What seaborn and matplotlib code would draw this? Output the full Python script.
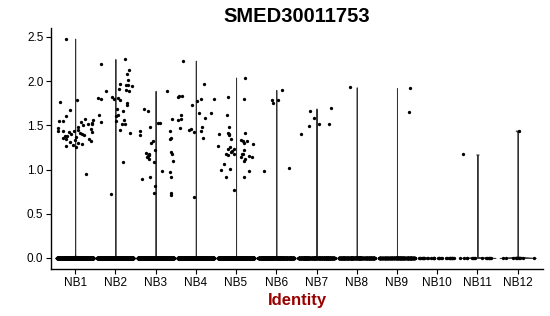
import numpy as np
import pandas as pd
import matplotlib
matplotlib.use("Agg")
import matplotlib.pyplot as plt
import seaborn as sns

groups = ["NB1", "NB2", "NB3", "NB4", "NB5", "NB6", "NB7", "NB8", "NB9", "NB10", "NB11", "NB12"]
zero_counts = [1500, 1200, 1200, 1300, 1000, 600, 500, 400, 300, 30, 15, 9]

nb1 = [2.48, 1.79, 1.76, 1.67, 1.61, 1.57, 1.56, 1.55, 1.55, 1.54, 1.53, 1.52, 1.52, 1.50, 1.48,
       1.47, 1.46, 1.45, 1.44, 1.43, 1.43, 1.42, 1.42, 1.41, 1.40, 1.40, 1.39, 1.38, 1.38, 1.37,
       1.36, 1.35, 1.34, 1.33, 1.32, 1.31, 1.30, 1.29, 1.28, 1.27, 1.26, 0.95]
nb2 = [2.25, 2.19, 2.12, 2.08, 2.01, 1.97, 1.96, 1.95, 1.94, 1.91, 1.90, 1.89, 1.89, 1.82, 1.81,
       1.81, 1.80, 1.80, 1.79, 1.75, 1.73, 1.68, 1.66, 1.62, 1.62, 1.60, 1.56, 1.55, 1.54, 1.52,
       1.51, 1.45, 1.41, 1.08, 0.72]
nb3 = [1.89, 1.68, 1.66, 1.57, 1.53, 1.53, 1.48, 1.44, 1.43, 1.39, 1.36, 1.34, 1.32, 1.30, 1.22,
       1.20, 1.19, 1.18, 1.18, 1.16, 1.15, 1.14, 1.12, 1.10, 1.09, 0.98, 0.97, 0.91, 0.91, 0.89,
       0.81, 0.73, 0.73, 0.71]
nb4 = [2.23, 1.97, 1.83, 1.83, 1.82, 1.80, 1.80, 1.77, 1.73, 1.64, 1.64, 1.62, 1.58, 1.57, 1.56,
       1.48, 1.47, 1.46, 1.45, 1.44, 1.42, 1.36, 0.69]
nb5 = [2.04, 1.82, 1.80, 1.62, 1.48, 1.41, 1.41, 1.40, 1.40, 1.39, 1.35, 1.33, 1.32, 1.32, 1.30,
       1.29, 1.27, 1.25, 1.23, 1.23, 1.22, 1.21, 1.20, 1.18, 1.18, 1.17, 1.17, 1.16, 1.15, 1.14,
       1.14, 1.12, 1.10, 1.06, 1.01, 1.00, 0.98, 0.92, 0.91, 0.77]
nb6 = [1.90, 1.79, 1.79, 1.75, 1.02, 0.98]
nb7 = [1.69, 1.66, 1.58, 1.51, 1.51, 1.49, 1.40]
nb8 = [1.93]
nb9 = [1.92, 1.65]
nb10 = []
nb11 = [1.17]
nb12 = [1.44]
nonzero = [nb1, nb2, nb3, nb4, nb5, nb6, nb7, nb8, nb9, nb10, nb11, nb12]

rows = []
for g, nz, vals in zip(groups, zero_counts, nonzero):
    for v in [0.0] * nz + list(vals):
        rows.append((g, v))
df = pd.DataFrame(rows, columns=["ident", "expr"])
df["ident"] = pd.Categorical(df["ident"], categories=groups, ordered=True)

sns.set_theme(style="ticks")
plt.rcParams["font.family"] = ["Liberation Sans", "DejaVu Sans"]

fig = plt.figure(figsize=(5.5, 3.16), dpi=100)
ax = fig.add_axes([51 / 550, 1 - 269 / 316, (543 - 51) / 550, (269 - 28) / 316])

vdf = df[df["ident"] != "NB10"].copy()
vdf["ident"] = pd.Categorical(vdf["ident"].astype(str), categories=groups, ordered=True)
sns.violinplot(data=vdf, x="ident", y="expr", order=groups, cut=0, density_norm="width",
               bw_adjust=0.02, inner=None, color="white", linecolor="#333333",
               linewidth=0.7, width=0.9, ax=ax)

np.random.seed(3)
sns.stripplot(data=df, x="ident", y="expr", order=groups, jitter=0.45, color="black",
              size=2.4, linewidth=0, ax=ax, zorder=3)

ax.set_xlim(-0.6, 11.63)
ax.set_ylim(-0.125, 2.60)
ax.set_yticks([0, 0.5, 1.0, 1.5, 2.0, 2.5])
ax.set_yticklabels(["0.0", "0.5", "1.0", "1.5", "2.0", "2.5"])
ax.tick_params(axis="both", labelsize=8.5, colors="black", length=3.5, width=0.8, pad=2)
for s in ["left", "bottom"]:
    ax.spines[s].set_color("black")
    ax.spines[s].set_linewidth(1.0)
sns.despine(ax=ax)
ax.set_ylabel("")
ax.set_xlabel("Identity", fontsize=12, fontweight="bold", color="#990000", labelpad=3)
fig.text(297 / 550, 1 - 16 / 316, "SMED30011753", ha="center", va="center",
         fontsize=14.5, fontweight="bold", color="black")

fig.savefig("out.png", dpi=100)
